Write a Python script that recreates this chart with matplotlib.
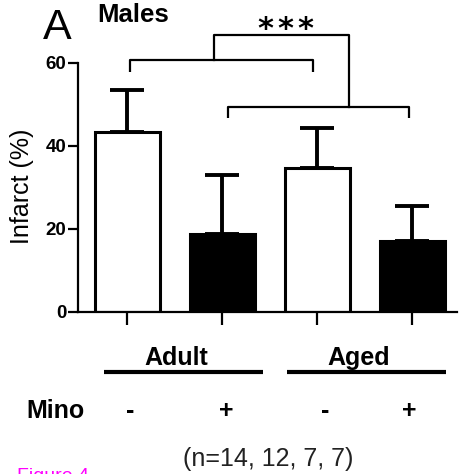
import matplotlib
matplotlib.use("Agg")
import matplotlib.pyplot as plt
import matplotlib.transforms as mtransforms

# ---- data ----
groups = ["Adult", "Aged"]
mino = ["-", "+", "-", "+"]
means = [43.3, 18.8, 34.6, 17.1]
errs = [10.3, 14.2, 9.7, 8.4]
colors = ["white", "black", "white", "black"]
yticks = [0, 20, 40, 60]
n_text = "(n=14, 12, 7, 7)"

plt.rcParams['font.family'] = ['Liberation Sans', 'DejaVu Sans']

W, H = 462, 474
fig = plt.figure(figsize=(W / 100, H / 100), dpi=100)

def fx(px):
    return px / W

def fy(py):
    return 1 - py / H

ax_l, ax_r, ax_t, ax_b = 78, 457, 63, 312
ax = fig.add_axes([fx(ax_l), fy(ax_b), fx(ax_r - ax_l), (ax_b - ax_t) / H])

x = list(range(len(means)))
ax.bar(x, means, width=0.68, color=colors, edgecolor="black", linewidth=2.2, zorder=2)
ax.errorbar(x, means, yerr=[[0] * len(errs), errs], fmt="none", ecolor="black",
            elinewidth=2.8, capsize=12, capthick=2.8, zorder=1)

ax.set_xlim(-0.52, 3.47)
ax.set_ylim(0, 60)
ax.set_yticks(yticks)
ax.set_yticklabels([str(v) for v in yticks], fontsize=13.5, fontweight="bold")
ax.set_xticks(x)
ax.set_xticklabels([])
ax.tick_params(axis="y", length=7, width=1.6, pad=1.5)
ax.tick_params(axis="x", length=9.5, width=1.6, direction="out")
for s in ["top", "right"]:
    ax.spines[s].set_visible(False)
for s in ["left", "bottom"]:
    ax.spines[s].set_linewidth(1.6)

# significance brackets (data coords)
lw_b = 1.6
def bracket(x1, x2, y, drop):
    ax.plot([x1, x1, x2, x2], [y - drop, y, y, y - drop], color="black",
            lw=lw_b, clip_on=False, solid_capstyle="butt")

bracket(x[0] + 0.03, x[1] + 0.95, 60.7, 2.9)
bracket(x[1] + 0.06, x[3] - 0.04, 49.4, 2.7)
c1, c2 = 0.91, 2.33
ax.plot([c1, c1, c2, c2], [60.7, 66.7, 66.7, 49.4], color="black", lw=lw_b, clip_on=False)
cs = 1.66
for k in (-1, 0, 1):
    ax.text(cs + k * 0.21, 66.0, "*", ha="center", va="baseline", fontsize=22,
            fontweight="bold", family="DejaVu Sans", clip_on=False)

# panel labels
fig.text(fx(57), fy(39), "A", fontsize=31, ha="center", va="baseline")
fig.text(fx(97), fy(22), "Males", fontsize=18.5, fontweight="bold", ha="left", va="baseline")
fig.text(fx(22), fy(186), "Infarct (%)", rotation=90, fontsize=18, ha="center", va="center")

# group labels below axis
trans = mtransforms.blended_transform_factory(ax.transData, fig.transFigure)
group_spans = [(-0.247, 1.426), (1.679, 3.35)]
group_text_x = [0.51, 2.43]
for g, (a, b), tx in zip(groups, group_spans, group_text_x):
    ax.plot([a, b], [fy(372), fy(372)], transform=trans, color="black", lw=3,
            clip_on=False, solid_capstyle="butt")
    ax.text(tx, fy(365), g, transform=trans, fontsize=18, fontweight="bold",
            ha="center", va="baseline")

fig.text(fx(55), fy(418), "Mino", fontsize=18, fontweight="bold", ha="center", va="baseline")
sign_off = [0.03, 0.04, 0.08, -0.03]
for xi, m, o in zip(x, mino, sign_off):
    ax.text(xi + o, fy(418), m, transform=trans, fontsize=18, fontweight="bold",
            ha="center", va="baseline")

fig.text(fx(268), fy(466), n_text, fontsize=18, color="#222222", ha="center", va="baseline")
fig.text(fx(17), fy(481), "Figure 4", fontsize=14, color="#ff00ff", ha="left", va="baseline")

fig.savefig("out.png", dpi=100)
